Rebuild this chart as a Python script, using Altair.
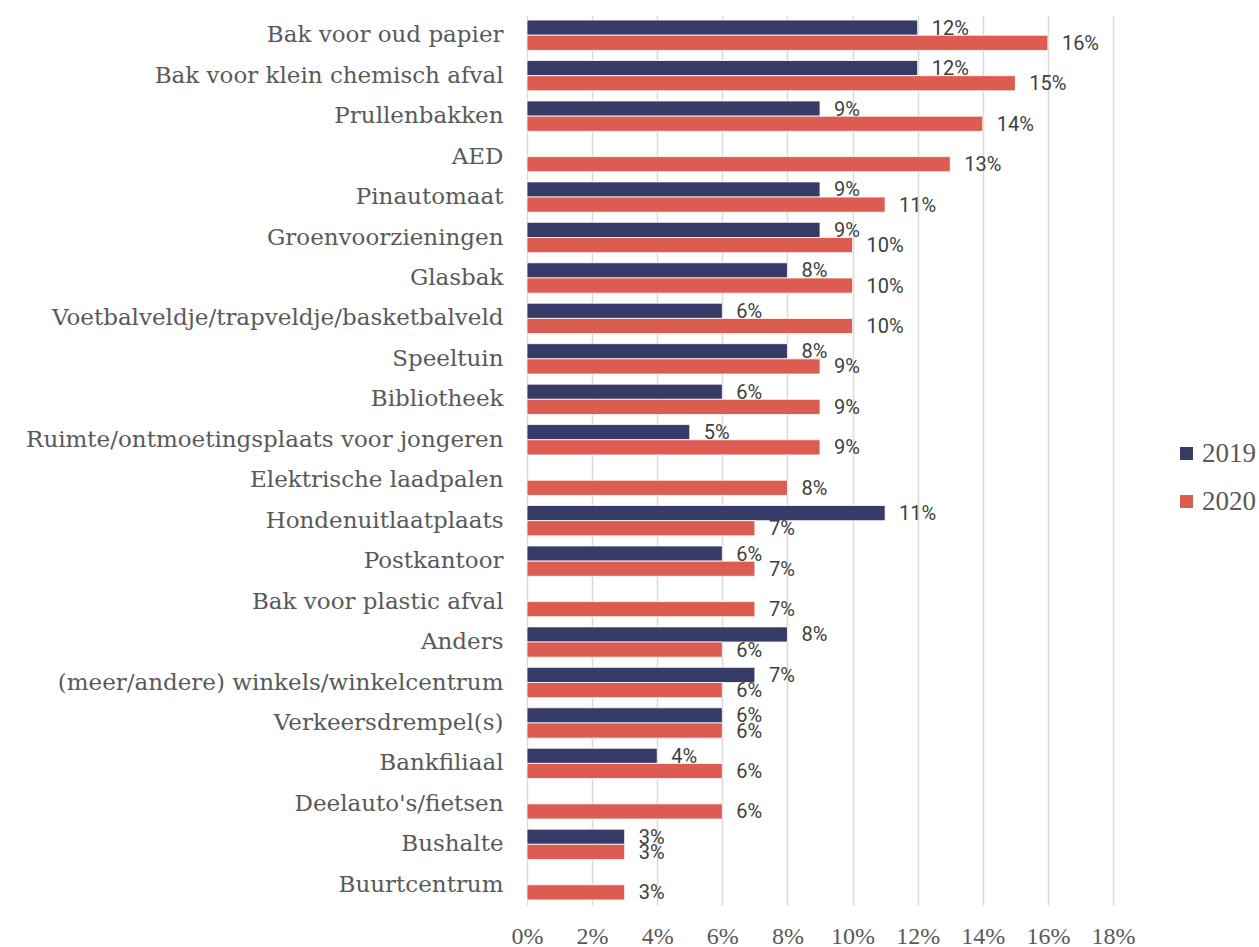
import altair as alt
import pandas as pd

categories = [
    "Bak voor oud papier", "Bak voor klein chemisch afval", "Prullenbakken", "AED",
    "Pinautomaat", "Groenvoorzieningen", "Glasbak", "Voetbalveldje/trapveldje/basketbalveld",
    "Speeltuin", "Bibliotheek", "Ruimte/ontmoetingsplaats voor jongeren", "Elektrische laadpalen",
    "Hondenuitlaatplaats", "Postkantoor", "Bak voor plastic afval", "Anders",
    "(meer/andere) winkels/winkelcentrum", "Verkeersdrempel(s)", "Bankfiliaal",
    "Deelauto's/fietsen", "Bushalte", "Buurtcentrum",
]
values_2019 = [12, 12, 9, None, 9, 9, 8, 6, 8, 6, 5, None, 11, 6, None, 8, 7, 6, 4, None, 3, None]
values_2020 = [16, 15, 14, 13, 11, 10, 10, 10, 9, 9, 9, 8, 7, 7, 7, 6, 6, 6, 6, 6, 3, 3]
years = ["2019", "2020"]
colors = ["#373b68", "#dd5c51"]
x_ticks = [0, 0.02, 0.04, 0.06, 0.08, 0.10, 0.12, 0.14, 0.16, 0.18]

rows = []
for cat, a, b in zip(categories, values_2019, values_2020):
    for yr, v in zip(years, [a, b]):
        if v is not None:
            rows.append({"cat": cat, "year": yr, "v": v / 100, "lab": f"{v}%"})
df = pd.DataFrame(rows)

y_enc = alt.Y("cat:N", sort=categories, title=None,
              scale=alt.Scale(paddingInner=0.25, paddingOuter=0.125),
              axis=alt.Axis(labelFont="DejaVu Serif", labelFontSize=23, labelColor="#595959",
                            labelPadding=24, ticks=False, domain=False, labelLimit=600))
x_enc = alt.X("v:Q", title=None,
              scale=alt.Scale(domain=[0, 0.18], nice=False),
              axis=alt.Axis(values=x_ticks, format=".0%", labelFont="Liberation Serif",
                            labelFontSize=24, labelColor="#595959", labelPadding=19,
                            labelFlush=False, labelOverlap=False,
                            ticks=False, domain=False, grid=True, gridColor="#d9d9d9",
                            gridWidth=1.5))
yoff = alt.YOffset("year:N", sort=years, scale=alt.Scale(domain=years, paddingInner=0, paddingOuter=0))

base = alt.Chart(df)
bars = base.mark_bar(stroke="white", strokeWidth=0.8).encode(
    y=y_enc, x=x_enc, yOffset=yoff,
    color=alt.Color("year:N", sort=years,
                    scale=alt.Scale(domain=years, range=colors),
                    legend=alt.Legend(title=None, orient="none", legendX=646, legendY=425,
                                      symbolType="square", symbolSize=170, symbolStrokeWidth=0,
                                      labelFont="Liberation Serif", labelFontSize=27,
                                      labelColor="#595959", rowPadding=20, padding=0,
                                      labelOffset=2)),
)
texts = base.mark_text(align="left", baseline="middle", dx=14, dy=1, font="Roboto",
                       fontSize=20, color="#404040").encode(
    y=alt.Y("cat:N", sort=categories), x="v:Q", yOffset=yoff, text="lab:N")

chart = alt.layer(bars, texts).properties(
    width=586, height=890,
    background="white",
    autosize=alt.AutoSizeParams(type="none"),
    padding={"left": 527, "top": 15, "right": 146, "bottom": 42},
).configure_view(strokeWidth=0, stroke=None)

chart.save("out.html", embed_options={"renderer": "svg", "actions": False})
